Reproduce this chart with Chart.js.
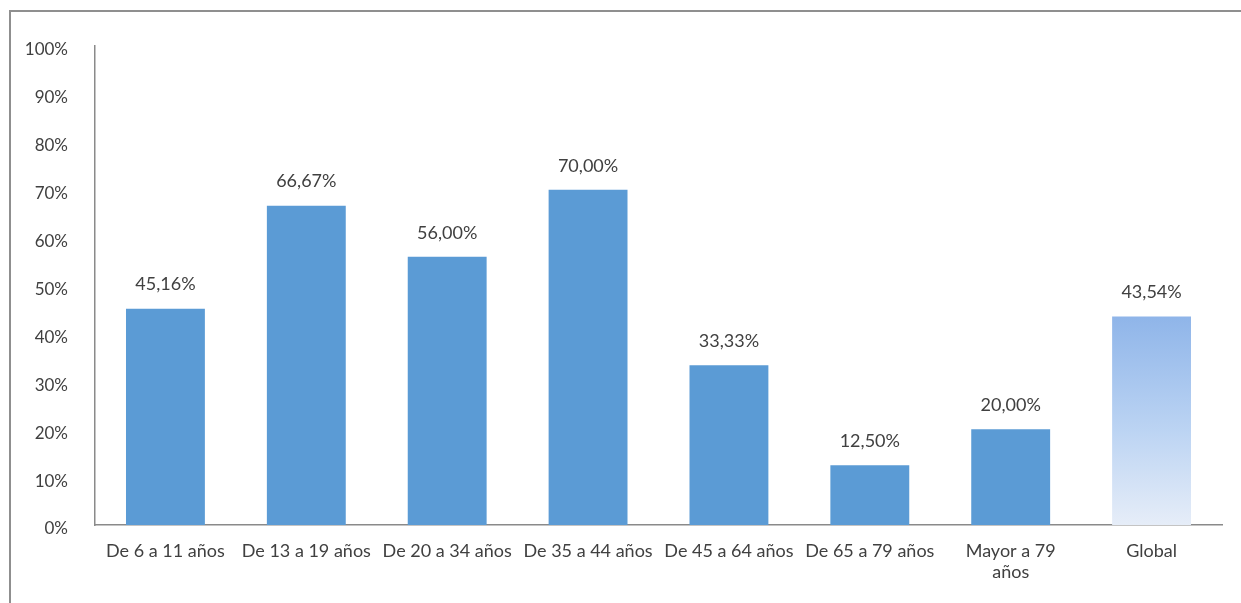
<!DOCTYPE html>
<html>
<head>
<meta charset="utf-8">
<script src="https://cdn.jsdelivr.net/npm/chart.js@4"></script>
<style>
  html, body { margin: 0; padding: 0; background: #fff; }
  #wrap { position: relative; width: 1241px; height: 603px; overflow: hidden; }
  #frame { position: absolute; left: 9px; top: 10px; width: 1300px; height: 700px;
           border-left: 2px solid #8f8f8f; border-top: 2px solid #8f8f8f; }
  canvas { position: absolute; left: 0; top: 0; }
</style>
</head>
<body>
<div id="wrap">
  <div id="frame"></div>
  <canvas id="myChart" width="1241" height="603"></canvas>
</div>
<script>
var categorias = ['De 6 a 11 años', 'De 13 a 19 años', 'De 20 a 34 años', 'De 35 a 44 años',
                  'De 45 a 64 años', 'De 65 a 79 años', ['Mayor a 79', 'años'], 'Global'];
var porcentajes = [45.16, 66.67, 56.00, 70.00, 33.33, 12.50, 20.00, 43.54];
var marcasY = [0, 10, 20, 30, 40, 50, 60, 70, 80, 90, 100];

var azul = '#5b9bd5';
var fuente = 'Lato, "Open Sans", sans-serif';

function colorBarra(context) {
  if (context.dataIndex != porcentajes.length - 1) return azul;
  var chart = context.chart;
  var area = chart.chartArea;
  if (!area) return '#a9c6ec';
  var top = chart.scales.y.getPixelForValue(porcentajes[context.dataIndex]);
  var g = chart.ctx.createLinearGradient(0, top, 0, area.bottom);
  g.addColorStop(0, '#8fb5e9');
  g.addColorStop(0.55, '#bcd4f3');
  g.addColorStop(1, '#e6edf8');
  return g;
}

// etiquetas con el valor encima de cada barra
const etiquetas = {
  id: 'etiquetas',
  afterDatasetsDraw(chart) {
    var ctx = chart.ctx;
    var meta = chart.getDatasetMeta(0);
    ctx.save();
    ctx.font = '18px ' + fuente;
    ctx.fillStyle = '#404040';
    ctx.textAlign = 'center';
    ctx.textBaseline = 'middle';
    meta.data.forEach(function (bar, i) {
      var txt = porcentajes[i].toFixed(2).replace('.', ',') + '%';
      ctx.fillText(txt, bar.x, bar.y - 24);
    });
    ctx.restore();
  }
};

const config = {
  type: 'bar',
  data: {
    labels: categorias,
    datasets: [{
      data: porcentajes,
      backgroundColor: colorBarra,
      categoryPercentage: 1,
      barPercentage: 0.56
    }]
  },
  options: {
    responsive: false,
    animation: false,
    layout: { padding: { top: 46, right: 19, bottom: 0, left: 0 } },
    plugins: {
      legend: { display: false },
      tooltip: { enabled: false }
    },
    scales: {
      x: {
        grid: { display: false },
        border: { display: true, color: '#8a8a8a', width: 1.5 },
        ticks: {
          color: '#404040',
          font: { family: fuente, size: 18, lineHeight: 1.2 },
          maxRotation: 0,
          autoSkip: false,
          padding: 7
        },
        afterFit: function (s) { s.height = 78; }
      },
      y: {
        min: 0,
        max: 100,
        grid: { display: false },
        border: { display: true, color: '#8a8a8a', width: 1.5 },
        afterBuildTicks: function (s) { s.ticks = marcasY.map(function (v) { return { value: v }; }); },
        ticks: {
          color: '#404040',
          font: { family: fuente, size: 17 },
          padding: 19,
          labelOffset: 4,
          callback: function (v) { return v + '%'; }
        },
        afterFit: function (s) { s.width = 95; }
      }
    }
  },
  plugins: [etiquetas]
};

var ctx = document.getElementById('myChart').getContext('2d');
var grafica = new Chart(ctx, config);
</script>
</body>
</html>
